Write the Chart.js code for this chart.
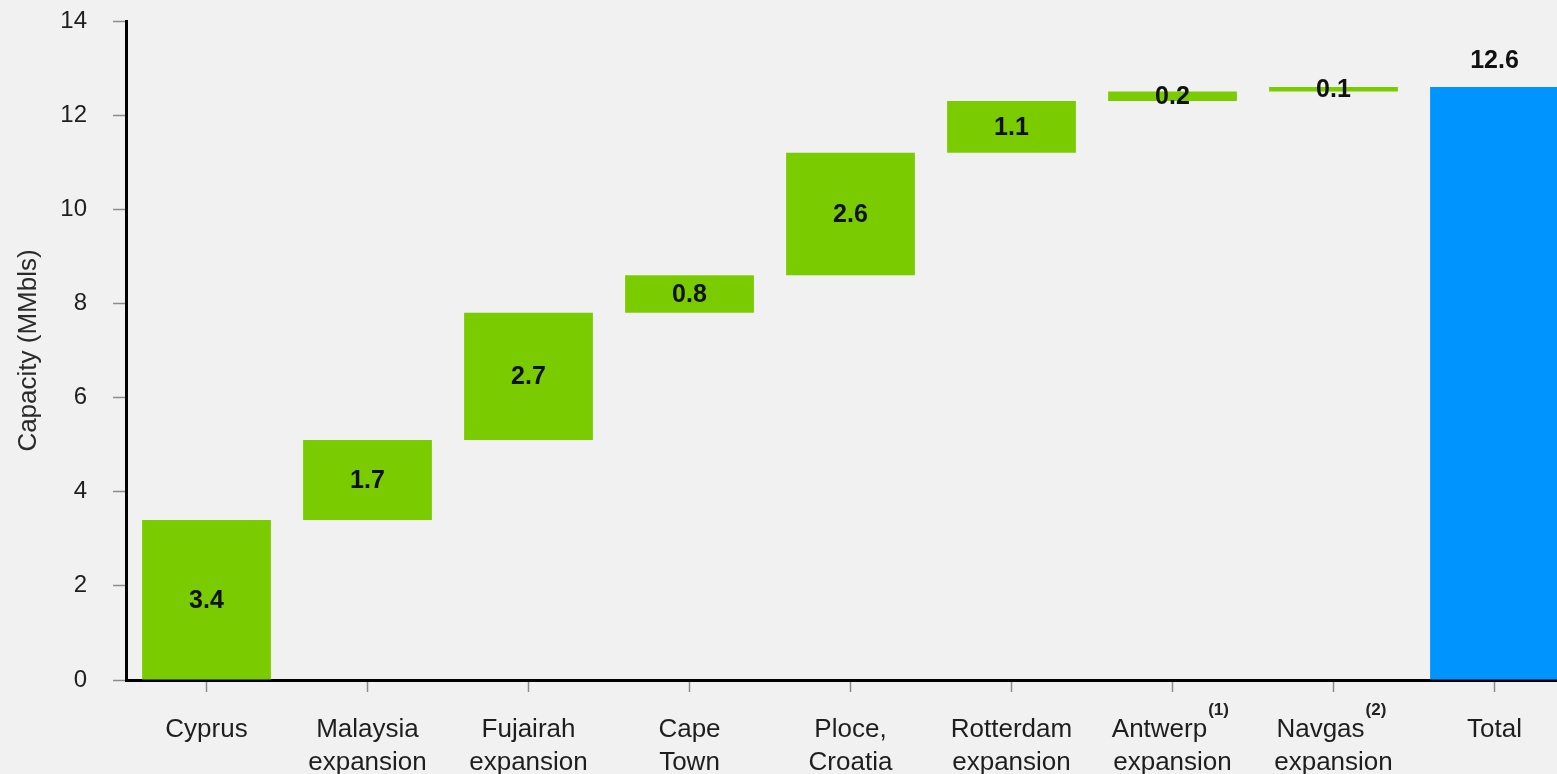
<!DOCTYPE html>
<html lang="en">
<head>
  <meta charset="UTF-8">
  <title>Capacity waterfall</title>
  <script src="https://cdn.jsdelivr.net/npm/chart.js"></script>
  <style>
    html, body { margin: 0; padding: 0; background: #f1f1f1; overflow: hidden; }
    #wrap { width: 1576px; height: 774px; }
  </style>
</head>
<body>
  <div id="wrap">
    <canvas id="myChart"></canvas>
  </div>
<script>
  // category labels (the em space leaves room for the superscript note)
  const categories = [
    ['Cyprus'],
    ['Malaysia', 'expansion'],
    ['Fujairah', 'expansion'],
    ['Cape', 'Town'],
    ['Ploce,', 'Croatia'],
    ['Rotterdam', 'expansion'],
    ['Antwerp\u2003', 'expansion'],
    ['Navgas\u2003', 'expansion'],
    ['Total']
  ];
  const notes = ['', '', '', '', '', '', '(1)', '(2)', ''];

  // capacity added at each site (MMbls), last one is the total
  const increments = [3.4, 1.7, 2.7, 0.8, 2.6, 1.1, 0.2, 0.1];
  const total = 12.6;

  const yTicks = [0, 2, 4, 6, 8, 10, 12, 14];

  const green = '#7acc00';
  const blue = '#0094ff';

  // floating bars: each step starts where the previous one ended
  var bars = [];
  var run = 0;
  for (var i = 0; i < increments.length; i++) {
    bars.push([run, run + increments[i]]);
    run = run + increments[i];
  }
  bars.push([0, total]);
  const shown = increments.concat([total]);

  const barLabels = {
    id: 'barLabels',
    afterDatasetsDraw(chart) {
      const ctx = chart.ctx;
      const y = chart.scales.y;
      const meta = chart.getDatasetMeta(0);
      ctx.save();
      ctx.font = 'bold 25px "Liberation Sans", Arial, sans-serif';
      ctx.fillStyle = '#111';
      ctx.textAlign = 'center';
      ctx.textBaseline = 'middle';
      meta.data.forEach(function (bar, i) {
        const v = bars[i];
        var py;
        if (i === bars.length - 1) {
          py = y.getPixelForValue(v[1]) - 26;
        } else {
          py = y.getPixelForValue((v[0] + v[1]) / 2) + 1;
        }
        ctx.fillText(shown[i].toFixed(1), bar.x, py);
      });
      ctx.restore();
    }
  };

  const footnotes = {
    id: 'footnotes',
    afterDraw(chart) {
      const ctx = chart.ctx;
      const x = chart.scales.x;
      ctx.save();
      for (var i = 0; i < notes.length; i++) {
        if (!notes[i]) continue;
        ctx.font = '26px "Liberation Sans", Arial, sans-serif';
        const lineW = ctx.measureText(categories[i][0]).width;
        const wordW = ctx.measureText(categories[i][0].trim()).width;
        const px = x.getPixelForTick(i) - lineW / 2 + wordW + 1;
        ctx.font = 'bold 17px "Liberation Sans", Arial, sans-serif';
        ctx.fillStyle = '#222';
        ctx.textAlign = 'left';
        ctx.textBaseline = 'middle';
        ctx.fillText(notes[i], px, 710);
      }
      ctx.restore();
    }
  };

  const ctx = document.getElementById('myChart').getContext('2d');
  const myChart = new Chart(ctx, {
    type: 'bar',
    data: {
      labels: categories,
      datasets: [{
        label: 'Capacity',
        data: bars,
        backgroundColor: shown.map(function (v, i) { return i === shown.length - 1 ? blue : green; }),
        borderWidth: 0,
        barPercentage: 0.8,
        categoryPercentage: 1.0
      }]
    },
    options: {
      responsive: true,
      maintainAspectRatio: false,
      animation: false,
      layout: { padding: { top: 21, right: 1, left: 0, bottom: 0 } },
      plugins: {
        legend: { display: false },
        tooltip: { enabled: false }
      },
      scales: {
        x: {
          offset: true,
          grid: {
            offset: false,
            drawOnChartArea: false,
            drawTicks: true,
            tickLength: 12,
            tickColor: '#8c8c8c',
            tickWidth: 1.5
          },
          border: { display: true, color: '#000', width: 3 },
          ticks: {
            color: '#1e1e1e',
            padding: 21,
            maxRotation: 0,
            autoSkip: false,
            font: { family: '"Liberation Sans", Arial, sans-serif', size: 26, lineHeight: 1.27 }
          },
          afterFit: function (s) { s.height = 94; s.paddingTop = 0; s.paddingBottom = 0; }
        },
        y: {
          min: 0,
          max: 14,
          afterBuildTicks: function (s) { s.ticks = yTicks.map(function (v) { return { value: v }; }); },
          grid: {
            drawOnChartArea: false,
            drawTicks: true,
            tickLength: 13,
            tickColor: '#8c8c8c',
            tickWidth: 1.5
          },
          border: { display: true, color: '#000', width: 3 },
          ticks: {
            color: '#1e1e1e',
            padding: 26,
            font: { family: '"Liberation Sans", Arial, sans-serif', size: 24 }
          },
          title: {
            display: true,
            text: 'Capacity (MMbls)',
            color: '#2a2a2a',
            padding: { top: 13, bottom: 0 },
            font: { family: '"Liberation Sans", Arial, sans-serif', size: 26 }
          },
          afterFit: function (s) { s.width = 126; s.paddingTop = 0; s.paddingBottom = 0; }
        }
      }
    },
    plugins: [barLabels, footnotes]
  });
</script>
</body>
</html>
